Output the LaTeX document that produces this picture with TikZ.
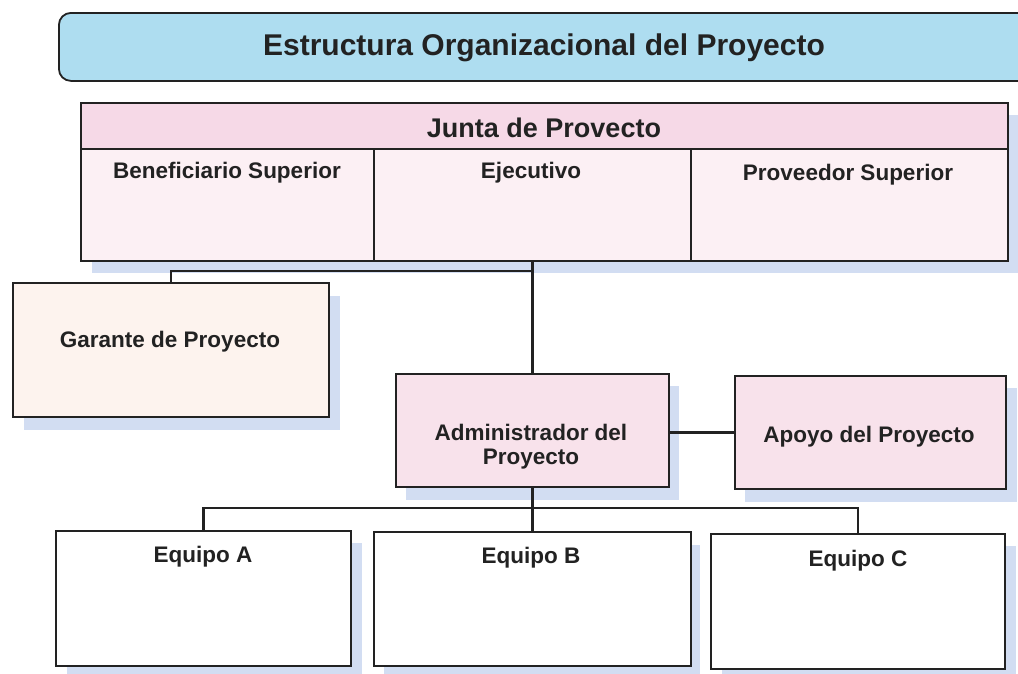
\documentclass[tikz,border=0pt]{standalone}
\usepackage{fontspec}
\setmainfont{Liberation Sans}
\definecolor{titlefill}{HTML}{AEDDF0}
\definecolor{headfill}{HTML}{F6D9E7}
\definecolor{bodyfill}{HTML}{FCF0F4}
\definecolor{garfill}{HTML}{FDF3EE}
\definecolor{pinkfill}{HTML}{F8E2EB}
\definecolor{shadowc}{HTML}{D2DDF2}
\definecolor{ink}{HTML}{222222}
\begin{document}
\begin{tikzpicture}[x=1pt,y=-1pt,
  box/.style={draw=ink, line width=1.8pt, rectangle, inner sep=0pt, anchor=north west},
  shad/.style={fill=shadowc, draw=none},
  lbl/.style={font=\bfseries\fontsize{22.5}{24}\selectfont, text=ink, align=center, anchor=base, inner sep=0pt},
  linkline/.style={draw=ink, line width=2.2pt}]
\useasboundingbox (0,0) rectangle (1018,673);
% title
\node[draw=ink, line width=1.8pt, fill=titlefill, rounded corners=12pt, anchor=north west,
      minimum width=990pt, minimum height=68pt, inner sep=0pt] (title) at (58,12) {};
\node[lbl, font=\bfseries\fontsize{30}{32}\selectfont] (titletxt) at (544,55) {Estructura Organizacional del Proyecto};
% shadows
\fill[shad] (92,115) rectangle (1019,273);
\fill[shad] (24,296) rectangle (340,430);
\fill[shad] (406,386) rectangle (679,500);
\fill[shad] (745,388) rectangle (1017,502);
\fill[shad] (67,543) rectangle (362,676);
\fill[shad] (384,545) rectangle (700,678);
\fill[shad] (722,546) rectangle (1016,680);
% junta
\node[box, fill=headfill, minimum width=927pt, minimum height=46pt] (head) at (80,102) {};
\node[box, fill=bodyfill, minimum width=293pt, minimum height=112pt] (benef) at (80,148) {};
\node[box, fill=bodyfill, minimum width=317pt, minimum height=112pt] (ejec) at (373,148) {};
\node[box, fill=bodyfill, minimum width=317pt, minimum height=112pt] (prov) at (690,148) {};
\node[lbl, font=\bfseries\fontsize{27}{30}\selectfont] (headtxt) at (544,137) {Junta de Provecto};
\node[lbl] (beneftxt) at (227,178) {Beneficiario Superior};
\node[lbl] (ejectxt) at (531,178) {Ejecutivo};
\node[lbl] (provtxt) at (848,180) {Proveedor Superior};
% middle boxes
\node[box, fill=garfill, minimum width=316pt, minimum height=134pt] (gar) at (12,282) {};
\node[lbl] (gartxt) at (170,347) {Garante de Proyecto};
\node[box, fill=pinkfill, minimum width=273pt, minimum height=113pt] (admin) at (395,373) {};
\node[lbl, anchor=north] (admintxt) at (531,423.5) {Administrador del\\Proyecto};
\node[box, fill=pinkfill, minimum width=271pt, minimum height=113pt] (apoyo) at (734,375) {};
\node[lbl] (apoyotxt) at (869,442) {Apoyo del Proyecto};
% teams
\node[box, fill=white, minimum width=295pt, minimum height=135pt] (eqa) at (55,530) {};
\node[box, fill=white, minimum width=317pt, minimum height=134pt] (eqb) at (373,531) {};
\node[box, fill=white, minimum width=294pt, minimum height=135pt] (eqc) at (710,533) {};
\node[lbl] (eqatxt) at (203,562) {Equipo A};
\node[lbl] (eqbtxt) at (531,563) {Equipo B};
\node[lbl] (eqctxt) at (858,566) {Equipo C};
% connectors
\coordinate (gj) at (531.5,271);
\coordinate (bj) at (531.5,508);
\draw[linkline] (ejec.south) -- (admin.north);
\draw[linkline] (gj) -| (gar.north);
\draw[linkline] (apoyo.west) -- (apoyo.west -| admin.east);
\draw[linkline] (admin.south) -- (eqb.north);
\draw[linkline] (eqa.north) |- (bj) -| (eqc.north);
\end{tikzpicture}
\end{document}
